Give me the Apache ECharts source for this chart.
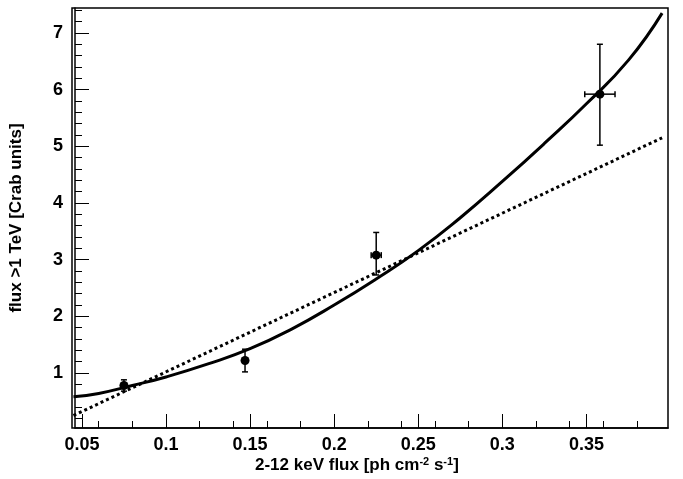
<!DOCTYPE html>
<html>
<head>
<meta charset="UTF-8">
<script src="https://cdn.jsdelivr.net/npm/echarts@6/dist/echarts.min.js"></script>
</head>
<body style="margin:0;background:#fff">
<div id="main" style="width:683px;height:479px"></div>
<script>
// measured points
var ptX = [0.075, 0.147, 0.225, 0.358];
var ptY = [0.78, 1.22, 3.08, 5.92];
var ptXErr = [0.0, 0.0, 0.003, 0.009];
var ptYLo = [0.1, 0.2, 0.35, 0.9];
var ptYHi = [0.1, 0.2, 0.4, 0.88];
var curveX = [0.045, 0.06, 0.08, 0.1, 0.125, 0.15, 0.175, 0.2, 0.225, 0.25, 0.275, 0.3, 0.325, 0.35, 0.375, 0.395];
var curveY = [0.58, 0.64, 0.78, 0.93, 1.16, 1.43, 1.78, 2.2, 2.66, 3.16, 3.74, 4.38, 5.05, 5.75, 6.52, 7.35];
// dotted linear fit
var lineX = [0.045, 0.395];
var lineY = [0.25, 5.15];

var font = 'Liberation Sans';
var chart = echarts.init(document.getElementById('main'));
var pts = ptX.map(function (x, i) { return [x, ptY[i], ptXErr[i], ptYLo[i], ptYHi[i]]; });

chart.setOption({
    animation: false,
    grid: { left: 72, right: 15, top: 8, bottom: 51 },
    xAxis: {
        type: 'value', min: 0.0459, max: 0.3985,
        splitLine: { show: false },
        axisLine: { onZero: false, lineStyle: { color: '#000', width: 1.5 } },
        axisTick: { inside: true, length: 14, lineStyle: { color: '#000' }, customValues: [0.05, 0.1, 0.15, 0.2, 0.25, 0.3, 0.35] },
        minorTick: { show: true, splitNumber: 5, length: 7, lineStyle: { color: '#000' } },
        axisLabel: { color: '#000', fontFamily: font, fontWeight: 'bold', fontSize: 18, margin: 8,
            customValues: [0.05, 0.1, 0.15, 0.2, 0.25, 0.3, 0.35],
            formatter: function (v) { return String(+v.toFixed(2)); } }
    },
    yAxis: {
        type: 'value', min: 0.03, max: 7.44,
        splitLine: { show: false },
        axisLine: { lineStyle: { color: '#000', width: 1.5 } },
        axisTick: { inside: true, length: 14, lineStyle: { color: '#000' }, customValues: [1, 2, 3, 4, 5, 6, 7] },
        minorTick: { show: true, splitNumber: 5, length: 7, lineStyle: { color: '#000' } },
        axisLabel: { color: '#000', fontFamily: font, fontWeight: 'bold', fontSize: 18, margin: 12,
            customValues: [1, 2, 3, 4, 5, 6, 7] },
        name: 'flux >1 TeV [Crab units]',
        nameLocation: 'middle', nameGap: 50,
        nameTextStyle: { color: '#000', fontFamily: font, fontWeight: 'bold', fontSize: 17 }
    },
    series: [
        {
            type: 'line', data: curveX.map(function (x, i) { return [x, curveY[i]]; }),
            smooth: 0.5, showSymbol: false, lineStyle: { color: '#000', width: 3 }
        },
        {
            type: 'line', data: lineX.map(function (x, i) { return [x, lineY[i]]; }),
            showSymbol: false, lineStyle: { color: '#000', width: 3, type: [3, 3] }
        },
        {
            type: 'custom', data: pts,
            renderItem: function (params, api) {
                var x = api.value(0), y = api.value(1), xe = api.value(2);
                var c = api.coord([x, y]);
                var lo = api.coord([x, y - api.value(3)]);
                var hi = api.coord([x, y + api.value(4)]);
                var l = api.coord([x - xe, y]);
                var r = api.coord([x + xe, y]);
                var st = { stroke: '#000', lineWidth: 1.5 };
                var kids = [
                    { type: 'line', shape: { x1: c[0], y1: lo[1], x2: c[0], y2: hi[1] }, style: st },
                    { type: 'line', shape: { x1: c[0] - 3, y1: lo[1], x2: c[0] + 3, y2: lo[1] }, style: st },
                    { type: 'line', shape: { x1: c[0] - 3, y1: hi[1], x2: c[0] + 3, y2: hi[1] }, style: st },
                    { type: 'circle', shape: { cx: c[0], cy: c[1], r: 4.5 }, style: { fill: '#000' } }
                ];
                if (xe > 0) {
                    kids.push({ type: 'line', shape: { x1: l[0], y1: c[1], x2: r[0], y2: c[1] }, style: st });
                    kids.push({ type: 'line', shape: { x1: l[0], y1: c[1] - 3, x2: l[0], y2: c[1] + 3 }, style: st });
                    kids.push({ type: 'line', shape: { x1: r[0], y1: c[1] - 3, x2: r[0], y2: c[1] + 3 }, style: st });
                }
                return { type: 'group', children: kids };
            }
        }
    ],
    graphic: [
        { type: 'rect', shape: { x: 72, y: 8, width: 596, height: 420 }, style: { fill: 'none', stroke: '#000', lineWidth: 1.5 }, silent: true },
        { type: 'text', left: 255, top: 456, style: {
            text: '2-12 keV flux [ph cm{s|-2} s{s|-1}]',
            fill: '#000', font: 'bold 17px ' + font,
            rich: { s: { font: 'bold 11px ' + font, fill: '#000', verticalAlign: 'top', padding: [0, 0, 8, 0] } } } }
    ]
});
</script>
</body>
</html>
